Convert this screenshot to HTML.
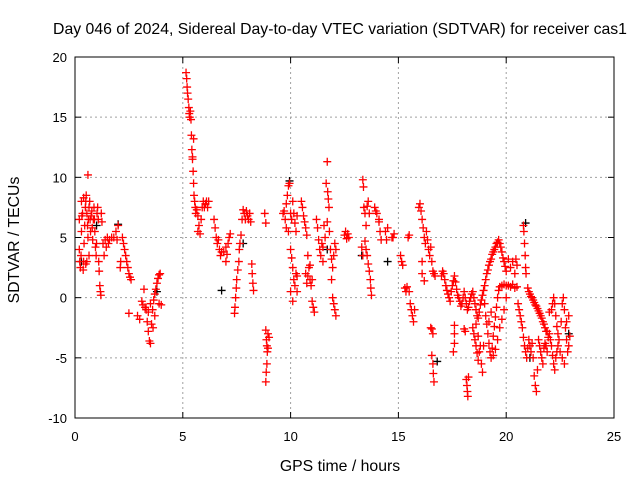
<!DOCTYPE html>
<html><head><meta charset="utf-8"><style>
body{margin:0;background:#fff}
svg{display:block;font-family:"Liberation Sans",sans-serif}
</style></head><body>
<svg id="chart" width="640" height="480">
<text x="340" y="34" font-size="15.8" text-anchor="middle">Day 046 of 2024, Sidereal Day-to-day VTEC variation (SDTVAR) for receiver cas1</text>
<text x="340" y="471" font-size="15.8" text-anchor="middle">GPS time / hours</text>
<text transform="translate(19,240) rotate(-90)" font-size="15.8" text-anchor="middle">SDTVAR / TECUs</text>
<g id="grid"></g><g id="ticks"></g><g id="marks"></g>
<rect x="75" y="57" width="539" height="361" fill="none" stroke="#000" stroke-width="1"/>
</svg>
<script>
const xTicks=[0,5,10,15,20,25];
const yTicks=[-10,-5,0,5,10,15,20];
const hours=[0.2,0.2,0.22,0.25,0.28,0.3,0.32,0.35,0.38,0.4,0.42,0.45,0.48,0.5,0.52,0.55,0.58,0.6,0.62,0.65,0.68,0.7,0.72,0.75,0.78,0.8,0.82,0.85,0.88,0.9,0.92,0.95,0.98,1.0,1.02,1.05,1.08,1.1,1.12,1.15,1.18,1.2,1.22,1.25,0.6,0.55,0.5,0.65,0.3,0.4,
1.3,1.35,1.4,1.45,1.5,1.55,1.6,1.7,1.8,1.9,2.0,1.95,2.1,2.12,2.2,2.25,2.3,2.35,2.4,2.45,2.5,2.55,2.6,2.5,
2.9,3.0,3.1,3.15,3.2,3.25,3.3,3.35,3.4,3.45,3.5,3.4,3.5,3.55,3.6,3.62,3.65,3.7,3.75,3.8,3.85,3.9,3.95,3.9,4.0,3.7,
5.15,5.18,5.2,5.22,5.25,5.28,5.3,5.32,5.35,5.38,5.4,5.42,5.45,5.48,5.5,5.52,5.55,5.58,5.6,5.65,5.7,5.75,5.8,5.85,5.9,5.95,6.0,6.05,6.1,6.15,6.2,5.7,5.5,5.45,
6.45,6.5,6.55,6.6,6.65,6.7,6.75,6.8,6.9,7.0,7.05,7.1,7.15,7.2,7.0,7.4,7.42,7.45,7.48,7.5,7.55,7.6,7.62,7.65,7.7,7.75,7.8,7.85,7.9,7.95,8.0,8.05,8.1,8.15,8.2,8.22,8.25,8.28,8.8,8.85,
8.85,8.88,8.9,8.92,8.95,9.0,8.9,8.87,8.85,8.95,
9.65,9.7,9.75,9.8,9.85,9.9,9.95,10.0,10.05,10.1,10.15,10.2,10.25,10.3,9.9,10.0,10.05,10.1,10.15,10.2,10.25,10.3,10.0,10.1,10.3,9.8,
10.5,10.55,10.6,10.65,10.7,10.75,10.8,10.85,10.9,10.95,11.0,11.05,11.1,10.7,10.75,10.8,10.9,11.0,
11.2,11.25,11.3,11.35,11.4,11.45,11.5,11.55,11.6,11.65,11.7,11.72,11.75,11.78,11.8,11.85,11.9,11.95,12.0,12.05,12.1,11.9,11.95,12.0,12.05,12.1,11.7,11.5,
12.5,12.55,12.6,12.65,12.7,
13.35,13.38,13.4,13.45,13.5,13.55,13.6,13.65,13.45,13.5,13.55,13.6,13.65,13.7,13.72,13.75,13.3,13.35,13.9,13.95,14.0,14.1,14.15,14.2,14.1,14.4,14.5,14.45,14.7,14.8,14.75,
15.1,15.15,15.2,15.3,15.35,15.4,15.5,15.55,15.6,15.65,15.7,15.75,15.5,15.45,15.95,16.0,16.05,16.1,16.15,16.2,16.25,16.3,16.35,16.4,16.45,16.5,16.55,16.6,16.65,16.7,16.1,16.1,16.2,16.55,16.6,16.55,16.6,16.62,16.65,16.5,
17.0,17.05,17.1,17.15,17.2,17.25,17.3,17.35,17.4,17.45,17.5,17.55,17.6,17.65,17.7,17.75,17.8,17.85,17.9,17.95,18.0,17.6,17.6,17.6,17.55,
18.05,18.1,18.15,18.2,18.25,18.3,18.35,18.4,18.45,18.5,18.55,18.6,18.65,18.7,18.75,18.8,18.85,18.9,18.95,18.05,18.1,18.15,18.18,18.2,18.22,18.25,18.45,18.5,18.55,18.6,18.65,18.7,18.75,18.8,18.85,18.9,18.95,18.6,18.7,
19.0,19.05,19.1,19.15,19.2,19.25,19.3,19.35,19.4,19.45,19.5,19.55,19.6,19.65,19.7,19.75,19.8,19.85,19.9,19.95,20.0,19.0,19.05,19.1,19.15,19.2,19.25,19.3,19.35,19.4,19.45,19.5,19.55,19.6,19.65,19.4,19.5,19.6,19.7,19.7,19.8,19.9,20.0,20.1,20.2,20.3,20.4,20.5,20.1,20.2,20.3,20.4,20.45,20.5,20.0,19.9,19.8,19.3,19.2,
20.55,20.6,20.65,20.7,20.75,20.8,20.82,20.85,20.88,20.9,20.92,20.8,20.85,20.9,20.95,21.0,21.05,21.1,21.15,21.2,21.25,21.3,21.35,21.4,21.45,21.0,21.05,21.1,21.15,21.2,21.25,21.3,21.35,21.4,21.45,21.5,
21.55,21.6,21.65,21.7,21.75,21.8,21.85,21.5,21.55,21.6,21.65,21.7,21.75,21.8,21.85,21.9,21.95,22.0,22.05,22.1,22.15,22.2,22.25,22.3,22.35,22.4,22.1,22.15,22.2,22.25,22.3,22.35,22.4,22.45,22.5,22.55,22.6,22.65,22.7,22.75,22.8,22.85,22.9,22.95,22.6,22.7,22.8,22.9,22.0,21.9];
const sdtvar=[6.5,4,3,2.5,3.5,5.5,6.8,7,2.3,3,4.5,6,7.5,8,8.5,7,6,5,6.5,7.5,8,6.5,5.5,6.8,7.2,5.8,4.8,6.5,7.5,6.5,5.5,4.2,3.5,4.5,7,7.5,6.5,3,2.2,1,0.5,0.2,7,6.3,10.2,3,2.8,3.5,8,8.3,
4.5,3.5,4.8,4.2,5,4.5,4.8,5,5,5.5,6,4.8,2.5,3,5,4.5,4,3.5,3,2.5,2,1.7,1.5,-1.3,
-1.5,-1.8,-0.3,-0.6,0.7,-0.8,-1,-2,-2.8,-3.6,-3.8,-1.2,-0.5,-2.2,-1,-2.5,-0.2,0.3,0.7,1.2,1.6,1.9,2,-0.5,-0.6,-1.5,
18.7,18.2,17.5,17,16.5,15.8,15.3,15,15.5,14.8,13.5,12.3,11.5,10.5,9.5,8.5,8,7.5,7,7.3,6.8,6,5.3,6.5,7.5,8,7.5,7.8,8,7.5,8,5.5,13.2,11.7,
6.5,5.8,5,4.5,4.8,4,3.5,3.8,3.8,4.2,3.6,4.5,5,5.3,3,-1.3,-0.8,0,0.8,1.5,2.3,3,4,4.5,5.2,6.5,7.3,7,6.5,7.2,6.8,6.5,7,6.3,2.8,2,1.2,0.6,7,6.2,
-2.7,-3.5,-4,-4.5,-3,-3.3,-5.5,-6.2,-7,-4.2,
7,7.2,6.5,7.8,8.5,9.3,9.5,7,6.5,8,7,6.2,5.5,6.8,5.5,4,3.3,2.5,1.5,1,2,1.8,0.5,-0.3,0.5,5.8,
8,7.5,6.8,6.3,5.8,5.2,3.5,2.5,1.5,1,-0.3,-0.8,-1.2,2,1.2,1.8,2.7,1.5,
6.5,5.8,4.8,4,3.5,4.5,4.2,6,5,9.5,11.3,8.8,8.2,7.5,5.5,4,3.2,2.5,3.5,4.5,4,1.5,0,-0.5,-1,-1.5,6.3,3,
5.2,5.5,4.9,5.3,5,
9.8,9.2,7.5,7,6,7.6,8,7,4.7,4,3.5,2.8,2.2,1.5,0.8,0.2,4.2,3.5,7.5,7.2,7,6.3,5.5,4.8,6.5,5.5,5.8,4.8,5,5.3,5,
3.5,3,2.7,0.8,0.5,0.9,0.5,-0.5,-1,-1.5,-2,-1,5.2,5,7.5,7.8,7.2,6.5,5.8,5,4.5,5.5,4.8,4,3.5,4.2,3,2.2,2,1.8,3,2,1.4,-2.6,-3,-4.8,-5.5,-6.3,-7,-2.5,
1.8,2.2,2,1.5,1,0.6,0.3,0,-0.3,0.5,1,1.4,1.8,1.3,0.7,0.2,0,-0.3,-0.7,-0.5,0,-2.3,-3,-3.8,-4.5,
0.5,0,-0.5,-1,-0.8,-0.3,0,0.3,0.5,0,-0.5,-1,-1.5,-1.7,-1.2,-0.6,-0.2,0.2,0.6,-2.6,-2.8,-6.8,-7.3,-7.8,-8.2,-6.6,-2.5,-3,-3.5,-4,-4.6,-5.2,-4.5,-4,-5.5,-6.2,-4,-2.2,-3.2,
1,1.5,2,2.3,2.7,3,3.2,3.6,3.8,4,4.2,4.5,4.6,4.8,4.5,4.2,3.8,3.3,3,2.6,2.2,-0.5,-1.5,-2.2,-3,-3.8,-4.5,-5,-4.2,-3.2,-2.4,-1.6,-0.8,0,0.6,-4.8,-4.3,-3.5,-2.5,0.9,1,1.1,1,1,0.9,1.1,0.8,0.9,3.2,2.5,3,2,3.2,2.7,0,-1,-1.8,-1.2,-2,
-0.5,-1,-1.5,-2,-2.5,6,5.5,4.5,3.5,2.5,2,-3.3,-4,-4.5,-5,-4.2,-3.5,-4,-4.5,-3.8,-5,-6.5,-7.3,-7.8,-6,0.8,0.5,0.3,0.1,0,-0.2,-0.4,-0.6,-0.7,-0.9,-1.1,
-1.3,-1.5,-1.7,-2,-2.2,-2.5,-2.8,-3.5,-4,-4.5,-5,-5.5,-4.2,-3.8,-4,-4.5,-3.3,-3,-3.5,-1,-0.5,0,-0.5,-1.5,-2.4,-3,-4,-4.8,-5.5,-6,-5,-4.5,-4,-3.5,-4.5,-2,-0.5,0,-1,-2.5,-3.5,-4.5,-4,-3.2,-5,-5.5,-2,-1.5,-1.2,-2.8];
const hoursB=[0.3,1.0,2.0,3.8,6.8,7.8,11.7,13.3,14.5,16.8,20.9,21.1,22.9,9.95];
const sdtvarB=[3,6,6.1,0.5,0.6,4.5,4,3.5,3,-5.3,6.2,-5,-3,9.7];

const L=75,R=614,T=57,B=418;
function xs(t){return L+(t-0)/(25-0)*(R-L);}
function ys(v){return B-(v+10)/(30)*(B-T);}
const NS='http://www.w3.org/2000/svg';
function mk(tag,at,parent){const e=document.createElementNS(NS,tag);for(const k in at)e.setAttribute(k,at[k]);parent.appendChild(e);return e;}
const grid=document.getElementById('grid'),ticks=document.getElementById('ticks'),marks=document.getElementById('marks');
xTicks.forEach(t=>{const x=xs(t);
 if(t>0&&t<25){const g=mk('line',{x1:x,x2:x,y1:T,y2:B,stroke:'#a0a0a0','stroke-dasharray':'2,3'},grid);
 
 }
 mk('line',{x1:x,x2:x,y1:B,y2:B-6,stroke:'#000'},ticks);mk('line',{x1:x,x2:x,y1:T,y2:T+6,stroke:'#000'},ticks);
 const l=mk('text',{x:x,y:B+23,'font-size':13,'text-anchor':'middle'},ticks);l.textContent=t;
 
 });
yTicks.forEach(v=>{const y=ys(v);
 if(v>-10&&v<20){const g=mk('line',{x1:L,x2:R,y1:y,y2:y,stroke:'#a0a0a0','stroke-dasharray':'2,3'},grid);
 
 }
 mk('line',{x1:L,x2:L+6,y1:y,y2:y,stroke:'#000'},ticks);mk('line',{x1:R,x2:R-6,y1:y,y2:y,stroke:'#000'},ticks);
 const l=mk('text',{x:L-8,y:y+5,'font-size':13,'text-anchor':'end'},ticks);l.textContent=v;
 
 });
function plus(t,v,col,name){const x=xs(t),y=ys(v);
 const p=mk('path',{d:`M${x-4},${y}H${x+4}M${x},${y-4}V${y+4}`,stroke:col,'stroke-width':1.3,fill:'none'},marks);
 
 }
hoursB.forEach((t,i)=>plus(t,sdtvarB[i],'#000','point-black'));
hours.forEach((t,i)=>plus(t,sdtvar[i],'#ff0000','point-sdtvar'));
</script>
</body></html>
